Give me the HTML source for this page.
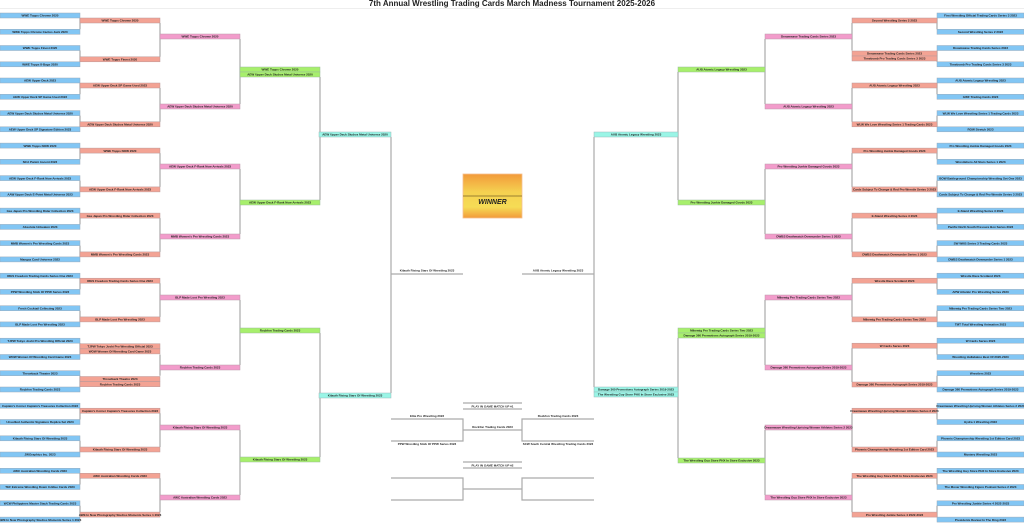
<!DOCTYPE html>
<html><head><meta charset="utf-8"><style>
html,body{margin:0;padding:0;background:#fff;}
svg{display:block;}
text{font-family:"Liberation Sans",sans-serif;font-weight:bold;font-size:3px;text-anchor:middle;fill:#222;}
.b{fill:#82c6f4;stroke:#9ab;stroke-width:.5}
.s{fill:#f3a394;stroke:#b99;stroke-width:.5}
.p{fill:#f29ccb;stroke:#b9a;stroke-width:.5}
.g{fill:#a7ef6c;stroke:#9b9;stroke-width:.5}
.c{fill:#9af5e6;stroke:#9bb;stroke-width:.5}
.ln{fill:none;stroke:#aaa;stroke-width:1.2}
</style></head><body>
<svg width="1024" height="524" viewBox="0 0 1024 524" xmlns="http://www.w3.org/2000/svg">
<text x="512" y="6" style="font-size:8px">7th Annual Wrestling Trading Cards March Madness Tournament 2025-2026</text>
<line x1="0" y1="8.5" x2="1024" y2="8.5" stroke="#eee" stroke-width="1"/>

<path class="ln" d="M80 18V29.3M80 50.5V61.8M80 83V94.3M80 115.6V126.8M80 148.1V159.3M80 180.6V191.9M80 213.1V224.4M80 245.6V256.9M80 278.2V289.4M80 310.7V321.9M80 343.2V354.5M80 375.7V387M80 408.2V419.5M80 440.8V452M80 473.3V484.5M80 505.8V517.1
M937 18V29.3M937 50.5V61.8M937 83V94.3M937 115.6V126.8M937 148.1V159.3M937 180.6V191.9M937 213.1V224.4M937 245.6V256.9M937 278.2V289.4M937 310.7V321.9M937 343.2V354.5M937 375.7V387M937 408.2V419.5M937 440.8V452M937 473.3V484.5M937 505.8V517.1
M160 23V56.8M160 88V121.8M160 153.1V186.9M160 218.1V251.9M160 283.2V316.9M160 354.5V375.7M160 413.2V447M160 478.3V512.1
M852 23V50.5M852 88V121.8M852 153.1V186.9M852 218.1V251.9M852 283.2V316.9M852 348.2V382M852 413.2V447M852 478.3V512.1
M240 39V104M240 169V234M240 300V365M240 430V495
M765 39V104M765 169V234M765 300V365M765 430V495
M320 77V200M320 333V457M678 72V200M678 338V458
M391 137V393M594 137V387
M391 274H463M522 274H594
M391 419H463V441H391M463 430H522M594 419H522V441H594
M391 478H463V500H391M463 489H522M594 478H522V500H594
M463 403H522M463 409H522M463 462H522M463 468H522"/>

<!-- Left R1 -->
<rect class="b" x="0" y="13" width="80" height="5"/><text x="40" y="16.7">WWE Topps Chrome 2020</text>
<rect class="b" x="0" y="29.3" width="80" height="5"/><text x="40" y="33">WWE Topps Chrome Cactus Jack 2020</text>
<rect class="b" x="0" y="45.5" width="80" height="5"/><text x="40" y="49.2">WWE Topps Finest 2020</text>
<rect class="b" x="0" y="61.8" width="80" height="5"/><text x="40" y="65.5">WWE Topps 8-Bags 2020</text>
<rect class="b" x="0" y="78" width="80" height="5"/><text x="40" y="81.7">AEW Upper Deck 2023</text>
<rect class="b" x="0" y="94.3" width="80" height="5"/><text x="40" y="98">AEW Upper Deck SP Game Used 2023</text>
<rect class="b" x="0" y="110.6" width="80" height="5"/><text x="40" y="114.3">AEW Upper Deck Skybox Metal Universe 2020</text>
<rect class="b" x="0" y="126.8" width="80" height="5"/><text x="40" y="130.5">AEW Upper Deck SP Signature Edition 2023</text>
<rect class="b" x="0" y="143.1" width="80" height="5"/><text x="40" y="146.8">WWE Topps NOW 2020</text>
<rect class="b" x="0" y="159.3" width="80" height="5"/><text x="40" y="163">NCA Panini Ascent 2023</text>
<rect class="b" x="0" y="175.6" width="80" height="5"/><text x="40" y="179.3">AEW Upper Deck F-Rank Now Arrivals 2023</text>
<rect class="b" x="0" y="191.9" width="80" height="5"/><text x="40" y="195.6">AAW Upper Deck E-Point Metal Universe 2023</text>
<rect class="b" x="0" y="208.1" width="80" height="5"/><text x="40" y="211.8">Gas Japan Pro Wrestling Rider Collection 2023</text>
<rect class="b" x="0" y="224.4" width="80" height="5"/><text x="40" y="228.1">Absolute Unbeaten 2023</text>
<rect class="b" x="0" y="240.6" width="80" height="5"/><text x="40" y="244.3">MMB Women's Pro Wrestling Cards 2023</text>
<rect class="b" x="0" y="256.9" width="80" height="5"/><text x="40" y="260.6">Mangaz Card Universe 2023</text>
<rect class="b" x="0" y="273.2" width="80" height="5"/><text x="40" y="276.9">RIES Freedom Trading Cards Series One 2023</text>
<rect class="b" x="0" y="289.4" width="80" height="5"/><text x="40" y="293.1">PPW Wrestling Stick Of PPW Series 2023</text>
<rect class="b" x="0" y="305.7" width="80" height="5"/><text x="40" y="309.4">Fresh Cocktail Collecting 2023</text>
<rect class="b" x="0" y="321.9" width="80" height="5"/><text x="40" y="325.6">BLP Made Loot Pro Wrestling 2023</text>
<rect class="b" x="0" y="338.2" width="80" height="5"/><text x="40" y="341.9">TJPW Tokyo Joshi Pro Wrestling Official 2023</text>
<rect class="b" x="0" y="354.5" width="80" height="5"/><text x="40" y="358.2">WOW Women Of Wrestling Card Game 2023</text>
<rect class="b" x="0" y="370.7" width="80" height="5"/><text x="40" y="374.4">Throwback Theatre 2023</text>
<rect class="b" x="0" y="387" width="80" height="5"/><text x="40" y="390.7">Rockfon Trading Cards 2023</text>
<rect class="b" x="0" y="403.2" width="80" height="5"/><text x="40" y="406.9">Captain's Corner Captain's Treasures Collection 2023</text>
<rect class="b" x="0" y="419.5" width="80" height="5"/><text x="40" y="423.2">Unsullied Authentic Signature Replica Set 2023</text>
<rect class="b" x="0" y="435.8" width="80" height="5"/><text x="40" y="439.5">Kilauth Rising Stars Of Wrestling 2023</text>
<rect class="b" x="0" y="452" width="80" height="5"/><text x="40" y="455.7">JWGraphics Inc. 2023</text>
<rect class="b" x="0" y="468.3" width="80" height="5"/><text x="40" y="472">AWC Australian Wrestling Cards 2023</text>
<rect class="b" x="0" y="484.5" width="80" height="5"/><text x="40" y="488.2">TEF Extreme Wrestling Down In Blue Cards 2023</text>
<rect class="b" x="0" y="500.8" width="80" height="5"/><text x="40" y="504.5">WCW Philippines Master Stack Trading Cards 2023</text>
<rect class="b" x="0" y="517.1" width="80" height="5"/><text x="40" y="520.8">AWE In Now Photography Studios Moments Series 1 2023</text>

<!-- Left R2 -->
<rect class="s" x="80" y="18" width="80" height="5"/><text x="120" y="21.7">WWE Topps Chrome 2020</text>
<rect class="s" x="80" y="56.8" width="80" height="5"/><text x="120" y="60.5">WWE Topps Finest 2020</text>
<rect class="s" x="80" y="83" width="80" height="5"/><text x="120" y="86.7">AEW Upper Deck SP Game Used 2023</text>
<rect class="s" x="80" y="121.8" width="80" height="5"/><text x="120" y="125.5">AEW Upper Deck Skybox Metal Universe 2020</text>
<rect class="s" x="80" y="148.1" width="80" height="5"/><text x="120" y="151.8">WWE Topps NOW 2020</text>
<rect class="s" x="80" y="186.9" width="80" height="5"/><text x="120" y="190.6">AEW Upper Deck F-Rank Now Arrivals 2023</text>
<rect class="s" x="80" y="213.1" width="80" height="5"/><text x="120" y="216.8">Gas Japan Pro Wrestling Rider Collection 2023</text>
<rect class="s" x="80" y="251.9" width="80" height="5"/><text x="120" y="255.6">MMB Women's Pro Wrestling Cards 2023</text>
<rect class="s" x="80" y="278.2" width="80" height="5"/><text x="120" y="281.9">RIES Freedom Trading Cards Series One 2023</text>
<rect class="s" x="80" y="316.9" width="80" height="5"/><text x="120" y="320.6">BLP Made Loot Pro Wrestling 2023</text>
<rect class="s" x="80" y="343.7" width="80" height="5"/><text x="120" y="347.4">TJPW Tokyo Joshi Pro Wrestling Official 2023</text>
<rect class="s" x="80" y="348.9" width="80" height="5"/><text x="120" y="352.6">WOW Women Of Wrestling Card Game 2023</text>
<rect class="s" x="80" y="376.5" width="80" height="5"/><text x="120" y="380.2">Throwback Theatre 2023</text>
<rect class="s" x="80" y="381.7" width="80" height="5"/><text x="120" y="385.4">Rockfon Trading Cards 2023</text>
<rect class="s" x="80" y="408.2" width="80" height="5"/><text x="120" y="411.9">Captain's Corner Captain's Treasures Collection 2023</text>
<rect class="s" x="80" y="447" width="80" height="5"/><text x="120" y="450.7">Kilauth Rising Stars Of Wrestling 2023</text>
<rect class="s" x="80" y="473.3" width="80" height="5"/><text x="120" y="477">AWC Australian Wrestling Cards 2023</text>
<rect class="s" x="80" y="512.1" width="80" height="5"/><text x="120" y="515.8">AWE In Now Photography Studios Moments Series 1 2023</text>

<!-- Left R3 -->
<rect class="p" x="160" y="34" width="80" height="5"/><text x="200" y="37.7">WWE Topps Chrome 2020</text>
<rect class="p" x="160" y="104" width="80" height="5"/><text x="200" y="107.7">AEW Upper Deck Skybox Metal Universe 2020</text>
<rect class="p" x="160" y="164" width="80" height="5"/><text x="200" y="167.7">AEW Upper Deck F-Rank Now Arrivals 2023</text>
<rect class="p" x="160" y="234" width="80" height="5"/><text x="200" y="237.7">MMB Women's Pro Wrestling Cards 2023</text>
<rect class="p" x="160" y="295" width="80" height="5"/><text x="200" y="298.7">BLP Made Loot Pro Wrestling 2023</text>
<rect class="p" x="160" y="365" width="80" height="5"/><text x="200" y="368.7">Rockfon Trading Cards 2023</text>
<rect class="p" x="160" y="425" width="80" height="5"/><text x="200" y="428.7">Kilauth Rising Stars Of Wrestling 2023</text>
<rect class="p" x="160" y="495" width="80" height="5"/><text x="200" y="498.7">AWC Australian Wrestling Cards 2023</text>

<!-- Left R4 -->
<rect class="g" x="240" y="67" width="80" height="5"/><text x="280" y="70.7">WWE Topps Chrome 2020</text>
<rect class="g" x="240" y="72" width="80" height="5"/><text x="280" y="75.7">AEW Upper Deck Skybox Metal Universe 2020</text>
<rect class="g" x="240" y="200" width="80" height="5"/><text x="280" y="203.7">AEW Upper Deck F-Rank Now Arrivals 2023</text>
<rect class="g" x="240" y="328" width="80" height="5"/><text x="280" y="331.7">Rockfon Trading Cards 2023</text>
<rect class="g" x="240" y="457" width="80" height="5"/><text x="280" y="460.7">Kilauth Rising Stars Of Wrestling 2023</text>

<!-- Left R5 -->
<rect class="c" x="319" y="132" width="72" height="5"/><text x="355" y="135.7">AEW Upper Deck Skybox Metal Universe 2020</text>
<rect class="c" x="319" y="393" width="72" height="5"/><text x="355" y="396.7">Kilauth Rising Stars Of Wrestling 2023</text>

<!-- Right R1 -->
<rect class="b" x="937" y="13" width="87" height="5"/><text x="980.5" y="16.7">First Wrestling Official Trading Cards Series 3 2023</text>
<rect class="b" x="937" y="29.3" width="87" height="5"/><text x="980.5" y="33">Second Wrestling Series 2 2023</text>
<rect class="b" x="937" y="45.5" width="87" height="5"/><text x="980.5" y="49.2">Dreamwave Trading Cards Series 2023</text>
<rect class="b" x="937" y="61.8" width="87" height="5"/><text x="980.5" y="65.5">Timebomb Pro Trading Cards Series 3 2023</text>
<rect class="b" x="937" y="78" width="87" height="5"/><text x="980.5" y="81.7">AUB Atomic Legacy Wrestling 2023</text>
<rect class="b" x="937" y="94.3" width="87" height="5"/><text x="980.5" y="98">GWF Trading Cards 2023</text>
<rect class="b" x="937" y="110.6" width="87" height="5"/><text x="980.5" y="114.3">WLW We Love Wrestling Series 1 Trading Cards 2023</text>
<rect class="b" x="937" y="126.8" width="87" height="5"/><text x="980.5" y="130.5">ROW Stretch 2023</text>
<rect class="b" x="937" y="143.1" width="87" height="5"/><text x="980.5" y="146.8">Pro Wrestling Junkie Damaged Goods 2023</text>
<rect class="b" x="937" y="159.3" width="87" height="5"/><text x="980.5" y="163">Wrestlehero All Stars Series 1 2023</text>
<rect class="b" x="937" y="175.6" width="87" height="5"/><text x="980.5" y="179.3">BOW Battleground Championship Wrestling Set One 2023</text>
<rect class="b" x="937" y="191.9" width="87" height="5"/><text x="980.5" y="195.6">Cards Subject To Change &amp; Red Pro Wrestle Series 3 2023</text>
<rect class="b" x="937" y="208.1" width="87" height="5"/><text x="980.5" y="211.8">E-Stand Wrestling Series 3 2023</text>
<rect class="b" x="937" y="224.4" width="87" height="5"/><text x="980.5" y="228.1">Pacific North South Pressure Box Series 2023</text>
<rect class="b" x="937" y="240.6" width="87" height="5"/><text x="980.5" y="244.3">SW WKB Series 3 Trading Cards 2023</text>
<rect class="b" x="937" y="256.9" width="87" height="5"/><text x="980.5" y="260.6">DWBS Deathmatch Downunder Series 1 2023</text>
<rect class="b" x="937" y="273.2" width="87" height="5"/><text x="980.5" y="276.9">Wrestle Rave Scotland 2023</text>
<rect class="b" x="937" y="289.4" width="87" height="5"/><text x="980.5" y="293.1">APW Atlantic Pro Wrestling Series 2023</text>
<rect class="b" x="937" y="305.7" width="87" height="5"/><text x="980.5" y="309.4">Mikemig Pro Trading Cards Series Two 2023</text>
<rect class="b" x="937" y="321.9" width="87" height="5"/><text x="980.5" y="325.6">TMT Total Wrestling Animation 2023</text>
<rect class="b" x="937" y="338.2" width="87" height="5"/><text x="980.5" y="341.9">W Cards Series 2023</text>
<rect class="b" x="937" y="354.5" width="87" height="5"/><text x="980.5" y="358.2">Wrestling Hullabaloo Best Of 2020-2023</text>
<rect class="b" x="937" y="370.7" width="87" height="5"/><text x="980.5" y="374.4">Wrestlers 2023</text>
<rect class="b" x="937" y="387" width="87" height="5"/><text x="980.5" y="390.7">Damage 360 Promotions Autograph Series 2019-2023</text>
<rect class="b" x="937" y="403.2" width="87" height="5"/><text x="980.5" y="406.9">Dreamwave Wrestling Uprising Women Athletes Series 2 2023</text>
<rect class="b" x="937" y="419.5" width="87" height="5"/><text x="980.5" y="423.2">Hydra 1 Wrestling 2023</text>
<rect class="b" x="937" y="435.8" width="87" height="5"/><text x="980.5" y="439.5">Phoenix Championship Wrestling 1st Edition Card 2023</text>
<rect class="b" x="937" y="452" width="87" height="5"/><text x="980.5" y="455.7">Mystery Wrestling 2023</text>
<rect class="b" x="937" y="468.3" width="87" height="5"/><text x="980.5" y="472">The Wrestling Guy Store PHX In Store Exclusive 2023</text>
<rect class="b" x="937" y="484.5" width="87" height="5"/><text x="980.5" y="488.2">The Mover Wrestling Figure Podcast Series 2 2023</text>
<rect class="b" x="937" y="500.8" width="87" height="5"/><text x="980.5" y="504.5">Pro Wrestling Junkie Series 4 2022-2023</text>
<rect class="b" x="937" y="517.1" width="87" height="5"/><text x="980.5" y="520.8">Presidents Review In The Ring 2023</text>

<!-- Right R2 -->
<rect class="s" x="852" y="18" width="85" height="5"/><text x="894.5" y="21.7">Second Wrestling Series 2 2023</text>
<rect class="s" x="852" y="51" width="85" height="5"/><text x="894.5" y="54.7">Dreamwave Trading Cards Series 2023</text>
<rect class="s" x="852" y="56" width="85" height="5"/><text x="894.5" y="59.7">Timebomb Pro Trading Cards Series 3 2023</text>
<rect class="s" x="852" y="83" width="85" height="5"/><text x="894.5" y="86.7">AUB Atomic Legacy Wrestling 2023</text>
<rect class="s" x="852" y="121.8" width="85" height="5"/><text x="894.5" y="125.5">WLW We Love Wrestling Series 1 Trading Cards 2023</text>
<rect class="s" x="852" y="148.1" width="85" height="5"/><text x="894.5" y="151.8">Pro Wrestling Junkie Damaged Goods 2023</text>
<rect class="s" x="852" y="186.9" width="85" height="5"/><text x="894.5" y="190.6">Cards Subject To Change &amp; Red Pro Wrestle Series 3 2023</text>
<rect class="s" x="852" y="213.1" width="85" height="5"/><text x="894.5" y="216.8">E-Stand Wrestling Series 3 2023</text>
<rect class="s" x="852" y="251.9" width="85" height="5"/><text x="894.5" y="255.6">DWBS Deathmatch Downunder Series 1 2023</text>
<rect class="s" x="852" y="278.2" width="85" height="5"/><text x="894.5" y="281.9">Wrestle Rave Scotland 2023</text>
<rect class="s" x="852" y="316.9" width="85" height="5"/><text x="894.5" y="320.6">Mikemig Pro Trading Cards Series Two 2023</text>
<rect class="s" x="852" y="343.2" width="85" height="5"/><text x="894.5" y="346.9">W Cards Series 2023</text>
<rect class="s" x="852" y="382" width="85" height="5"/><text x="894.5" y="385.7">Damage 360 Promotions Autograph Series 2019-2023</text>
<rect class="s" x="852" y="408.2" width="85" height="5"/><text x="894.5" y="411.9">Dreamwave Wrestling Uprising Women Athletes Series 2 2023</text>
<rect class="s" x="852" y="447" width="85" height="5"/><text x="894.5" y="450.7">Phoenix Championship Wrestling 1st Edition Card 2023</text>
<rect class="s" x="852" y="473.3" width="85" height="5"/><text x="894.5" y="477">The Wrestling Guy Store PHX In Store Exclusive 2023</text>
<rect class="s" x="852" y="512.1" width="85" height="5"/><text x="894.5" y="515.8">Pro Wrestling Junkie Series 4 2022-2023</text>

<!-- Right R3 -->
<rect class="p" x="765" y="34" width="87" height="5"/><text x="808.5" y="37.7">Dreamwave Trading Cards Series 2023</text>
<rect class="p" x="765" y="104" width="87" height="5"/><text x="808.5" y="107.7">AUB Atomic Legacy Wrestling 2023</text>
<rect class="p" x="765" y="164" width="87" height="5"/><text x="808.5" y="167.7">Pro Wrestling Junkie Damaged Goods 2023</text>
<rect class="p" x="765" y="234" width="87" height="5"/><text x="808.5" y="237.7">DWBS Deathmatch Downunder Series 1 2023</text>
<rect class="p" x="765" y="295" width="87" height="5"/><text x="808.5" y="298.7">Mikemig Pro Trading Cards Series Two 2023</text>
<rect class="p" x="765" y="365" width="87" height="5"/><text x="808.5" y="368.7">Damage 360 Promotions Autograph Series 2019-2023</text>
<rect class="p" x="765" y="425" width="87" height="5"/><text x="808.5" y="428.7">Dreamwave Wrestling Uprising Women Athletes Series 2 2023</text>
<rect class="p" x="765" y="495" width="87" height="5"/><text x="808.5" y="498.7">The Wrestling Guy Store PHX In Store Exclusive 2023</text>

<!-- Right R4 -->
<rect class="g" x="678" y="67" width="87" height="5"/><text x="721.5" y="70.7">AUB Atomic Legacy Wrestling 2023</text>
<rect class="g" x="678" y="200" width="87" height="5"/><text x="721.5" y="203.7">Pro Wrestling Junkie Damaged Goods 2023</text>
<rect class="g" x="678" y="328" width="87" height="5"/><text x="721.5" y="331.7">Mikemig Pro Trading Cards Series Two 2023</text>
<rect class="g" x="678" y="333" width="87" height="5"/><text x="721.5" y="336.7">Damage 360 Promotions Autograph Series 2019-2023</text>
<rect class="g" x="678" y="458" width="87" height="5"/><text x="721.5" y="461.7">The Wrestling Guy Store PHX In Store Exclusive 2023</text>

<!-- Right R5 -->
<rect class="c" x="594" y="132" width="84" height="5"/><text x="636" y="135.7">AUB Atomic Legacy Wrestling 2023</text>
<rect class="c" x="594" y="387" width="84" height="5"/><text x="636" y="390.7">Damage 360 Promotions Autograph Series 2019-2023</text>
<rect class="c" x="594" y="392" width="84" height="5"/><text x="636" y="395.7">The Wrestling Guy Store PHX In Store Exclusive 2023</text>

<!-- Finals -->
<text x="427" y="271.5">Kilauth Rising Stars Of Wrestling 2023</text>
<text x="558" y="271.5">AUB Atomic Legacy Wrestling 2023</text>

<defs><linearGradient id="wg" x1="0" y1="0" x2="0" y2="1">
<stop offset="0" stop-color="#f29a3a"/><stop offset="0.4" stop-color="#f5d050"/><stop offset="0.75" stop-color="#f6dc55"/><stop offset="1" stop-color="#f29a3a"/></linearGradient></defs>
<rect x="463" y="174" width="59" height="44" fill="url(#wg)" stroke="#f6c090" stroke-width=".8"/>
<line x1="463" y1="196" x2="522" y2="196" stroke="#9a8030" stroke-width="1"/>
<text x="492.5" y="204" style="font-size:7px;font-style:italic;fill:#222">WINNER</text>

<!-- Play-in -->
<text x="492.5" y="407.3">PLAY IN GAME MATCH UP #1</text>
<text x="427" y="417">Elite Pro Wrestling 2023</text>
<text x="427" y="445">PPW Wrestling Stick Of PPW Series 2023</text>
<text x="492.5" y="428">Rockfon Trading Cards 2023</text>
<text x="558" y="417">Rockfon Trading Cards 2023</text>
<text x="558" y="445">SCW South Central Wrestling Trading Cards 2023</text>
<text x="492.5" y="466.3">PLAY IN GAME MATCH UP #2</text>
</svg>
</body></html>
